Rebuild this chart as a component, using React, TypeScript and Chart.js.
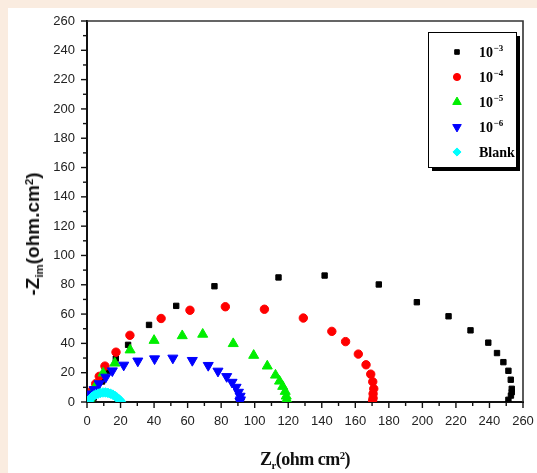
import React, { useEffect, useRef } from 'react';
import { Chart, registerables } from 'chart.js';
import { drawPoint } from 'chart.js/helpers';

Chart.register(...registerables);

// ---- data (Z_r, -Z_im) ----
const series1e3: [number, number][] = [
  [4, 3], [6, 8], [9, 14], [12.7, 21], [17.2, 29.6], [24.5, 39], [37, 52.6], [53.2, 65.6],
  [76, 79], [114.2, 85], [141.7, 86.3], [174, 80.2], [196.7, 68.1], [215.6, 58.5],
  [228.7, 48.9], [239.3, 40.5], [244.5, 33.4], [248.3, 27.2], [251.3, 21.3], [252.7, 15.2],
  [253.3, 9], [253.3, 6.7], [252.8, 4.4], [251.3, 1.5],
];
const series1e4: [number, number][] = [
  [1.5, 3.5], [3.2, 8], [5.2, 12.5], [7.3, 17.5], [10.7, 24.5], [17.3, 34], [25.6, 45.5],
  [44.2, 57], [61.4, 62.6], [82.5, 65], [105.8, 63.3], [129, 57.3], [146, 48.2], [154.2, 41.2],
  [161.8, 32.7], [166.4, 25.4], [169.2, 19], [170.4, 13.8], [171, 9], [170.6, 5.6],
  [170.6, 2.6], [170.3, 0.8],
];
const series1e5: [number, number][] = [
  [1.5, 2.5], [3.2, 6.5], [5.2, 11], [9.6, 19.7], [16.6, 26.5], [25.7, 35.5], [40, 42],
  [56.8, 45.2], [69, 46.2], [87.2, 39.8], [99.4, 31.8], [107.5, 24.5], [112.4, 18.3],
  [114.8, 14.2], [116.7, 10.6], [118.2, 7.2], [118.8, 4], [119.1, 1.7], [119, 0.5],
];
const series1e6: [number, number][] = [
  [1.5, 3], [2.5, 5.5], [4.2, 8.5], [7.2, 12.5], [11.2, 17], [15.1, 21.3], [21.9, 25.2],
  [30.3, 28], [40.3, 29.5], [51.2, 30], [62.8, 28.4], [72.3, 25], [78.1, 21.1], [83.3, 17.4],
  [86.5, 13.5], [88.9, 10.1], [90.3, 6.7], [91.3, 4], [91.5, 1.5], [91.2, 0.4],
];
const seriesBlank: [number, number][] = [
  [1, 0.5], [1.5, 1.5], [2.2, 2.5], [3, 3.5], [4, 4.4], [5.2, 5.1], [6.6, 5.7], [8, 6.2],
  [9.5, 6.5], [11, 6.5], [12.5, 6.2], [14, 5.7], [15.4, 5], [16.7, 4.1], [17.8, 3.1],
  [18.8, 2.1], [19.6, 1.2], [20.2, 0.4],
];

const legendBase = ['10', '10', '10', '10', 'Blank'];
const legendExp = ['\u22123', '\u22124', '\u22125', '\u22126', ''];
const seriesColors = ['#000000', '#ff0000', '#00ee00', '#0000ff', '#00ffff'];
const seriesStyles = ['rect', 'circle', 'triangle', 'triangle', 'rectRot'];
const seriesRadius = [3.8, 4.2, 5.8, 5.8, 4.8];
const seriesRotation = [0, 0, 0, 180, 0];
const seriesData = [series1e3, series1e4, series1e5, series1e6, seriesBlank];

const axisMin = 0;
const axisMax = 260;
const tickStep = 10;

const framePlugin = {
  id: 'frameTicksLegend',
  afterDraw(chart: any) {
    const { ctx, chartArea } = chart;
    const { left, right, top, bottom } = chartArea;
    const xs = chart.scales.x;
    const ys = chart.scales.y;
    ctx.save();
    // frame top / right
    ctx.strokeStyle = '#333';
    ctx.lineWidth = 1.6;
    ctx.beginPath();
    ctx.moveTo(left, top);
    ctx.lineTo(right, top);
    ctx.lineTo(right, bottom);
    ctx.stroke();
    // ticks
    ctx.strokeStyle = '#111';
    ctx.lineWidth = 1.4;
    xs.ticks.forEach((t: any) => {
      const px = xs.getPixelForValue(t.value);
      const len = t.value % 20 === 0 ? 6 : 4;
      ctx.beginPath();
      ctx.moveTo(px, bottom);
      ctx.lineTo(px, bottom + len);
      ctx.stroke();
    });
    ys.ticks.forEach((t: any) => {
      const py = ys.getPixelForValue(t.value);
      const len = t.value % 20 === 0 ? 6 : 4;
      ctx.beginPath();
      ctx.moveTo(left, py);
      ctx.lineTo(left - len, py);
      ctx.stroke();
    });
    // legend box
    const bx = 428, by = 32, bw = 88, bh = 135;
    ctx.fillStyle = '#000';
    ctx.fillRect(bx + 4, by + 4, bw, bh);
    ctx.fillStyle = '#fff';
    ctx.fillRect(bx, by, bw, bh);
    ctx.strokeStyle = '#000';
    ctx.lineWidth = 1;
    ctx.strokeRect(bx + 0.5, by + 0.5, bw, bh);
    const rows = [52, 77, 102, 127, 152];
    rows.forEach((ry, i) => {
      ctx.fillStyle = seriesColors[i];
      ctx.strokeStyle = seriesColors[i];
      drawPoint(ctx, {
        pointStyle: seriesStyles[i] as any,
        radius: seriesRadius[i] * 0.85,
        rotation: seriesRotation[i],
        borderWidth: 1,
      } as any, 457, ry);
      ctx.fillStyle = '#000';
      ctx.textBaseline = 'alphabetic';
      ctx.textAlign = 'left';
      ctx.font = 'bold 14px "Liberation Serif"';
      ctx.fillText(legendBase[i], 479, ry + 5);
      if (legendExp[i]) {
        const w = ctx.measureText(legendBase[i]).width;
        ctx.font = 'bold 9px "Liberation Serif"';
        ctx.fillText(legendExp[i], 479 + w + 0.5, ry - 1);
      }
    });
    ctx.restore();
  },
};

export default function App() {
  const ref = useRef<HTMLCanvasElement>(null);
  useEffect(() => {
    if (!ref.current) return;
    const tickFont = { family: '"Liberation Sans", Arial, sans-serif', size: 13 };
    const chart = new Chart(ref.current, {
      type: 'scatter',
      data: {
        datasets: seriesData.map((d, i) => ({
          label: legendBase[i] + legendExp[i],
          data: d.map(([x, y]) => ({ x, y })),
          pointStyle: seriesStyles[i] as any,
          pointRadius: seriesRadius[i],
          pointRotation: seriesRotation[i],
          backgroundColor: seriesColors[i],
          borderColor: seriesColors[i],
          pointBorderWidth: 1,
          showLine: false,
          order: 5 - i,
        })),
      },
      options: {
        animation: false,
        responsive: false,
        maintainAspectRatio: false,
        devicePixelRatio: 1,
        events: [],
        layout: { padding: { top: 21, right: 14, left: 0, bottom: 0 } },
        plugins: { legend: { display: false }, tooltip: { enabled: false } },
        scales: {
          x: {
            type: 'linear',
            min: axisMin,
            max: axisMax,
            afterFit: (s: any) => { s.height = 71; s.paddingRight = 0; s.paddingLeft = 0; },
            grid: { display: true, drawOnChartArea: false, drawTicks: false },
            border: { display: true, color: '#111', width: 2 },
            ticks: {
              stepSize: tickStep,
              autoSkip: false,
              maxTicksLimit: 100,
              maxRotation: 0,
              padding: 12,
              color: '#222',
              font: tickFont,
              callback: (v: any) => (Number(v) % 20 === 0 ? String(v) : ''),
            },
          },
          y: {
            type: 'linear',
            min: axisMin,
            max: axisMax,
            afterFit: (s: any) => { s.width = 87; },
            grid: { display: true, drawOnChartArea: false, drawTicks: false },
            border: { display: true, color: '#111', width: 2 },
            ticks: {
              stepSize: tickStep,
              autoSkip: false,
              maxTicksLimit: 100,
              padding: 12,
              color: '#222',
              font: tickFont,
              callback: (v: any) => (Number(v) % 20 === 0 ? String(v) : ''),
            },
          },
        },
      },
      plugins: [framePlugin],
    } as any);
    return () => chart.destroy();
  }, []);

  const subSup: React.CSSProperties = { fontSize: '0.6em', position: 'relative', lineHeight: 0 };
  return (
    <div style={{ position: 'absolute', left: 0, top: 0, width: 537, height: 473, background: '#FAECE0', overflow: 'hidden' }}>
      <div style={{ position: 'absolute', left: 8, top: 8, width: 529, height: 465, background: '#ffffff' }} />
      <canvas ref={ref} width={537} height={473} style={{ position: 'absolute', left: 0, top: 0, width: 537, height: 473 }} />
      <div
        style={{
          position: 'absolute', left: 33, top: 234, transform: 'translate(-50%, -50%) rotate(-90deg)',
          whiteSpace: 'nowrap', fontFamily: '"Liberation Sans", Arial, sans-serif', fontWeight: 'bold',
          fontSize: 19, color: '#111', lineHeight: '20px',
        }}
      >
        -Z<span style={{ ...subSup, top: '0.35em' }}>im</span>(ohm.cm<span style={{ ...subSup, top: '-0.55em' }}>2</span>)
      </div>
      <div
        style={{
          position: 'absolute', left: 305, top: 459, transform: 'translate(-50%, -50%)',
          whiteSpace: 'nowrap', fontFamily: '"Liberation Serif", serif', fontWeight: 'bold',
          fontSize: 18, color: '#111', lineHeight: '20px', letterSpacing: '-0.5px',
        }}
      >
        Z<span style={{ ...subSup, top: '0.4em' }}>r</span>(ohm cm<span style={{ ...subSup, top: '-0.55em' }}>2</span>)
      </div>
    </div>
  );
}
